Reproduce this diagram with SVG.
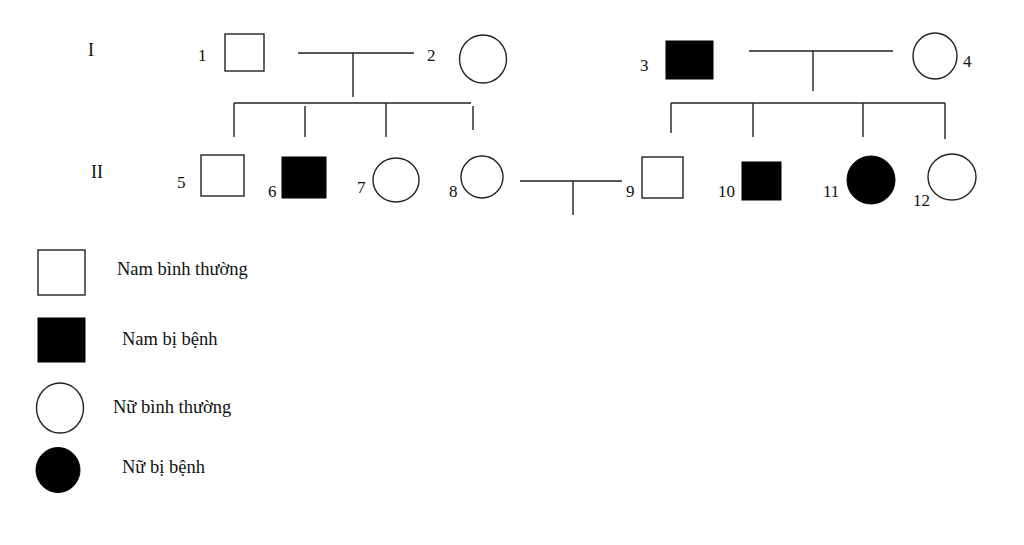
<svg xmlns="http://www.w3.org/2000/svg" width="1024" height="545" viewBox="0 0 1024 545">
<style>
.n{fill:#fff;stroke:#222;stroke-width:1.4}
.a{fill:#000;stroke:#000;stroke-width:1}
.c line{stroke:#222;stroke-width:1.4}
text{font-family:"Liberation Serif","Times New Roman",serif;fill:#111}
.num{font-size:17px}
.gen{font-size:18px}
.leg{font-size:18.5px}
</style>
<rect width="1024" height="545" fill="#fff"/>
<g id="connectors" class="c">
<line x1="298" y1="53" x2="414" y2="53"/>
<line x1="353" y1="53" x2="353" y2="97"/>
<line x1="234" y1="103" x2="471" y2="103"/>
<line x1="234" y1="103" x2="234" y2="137"/>
<line x1="305" y1="106" x2="305" y2="137"/>
<line x1="386" y1="103" x2="386" y2="137"/>
<line x1="473" y1="106" x2="473" y2="130"/>
<line x1="749" y1="51" x2="893" y2="51"/>
<line x1="813" y1="51" x2="813" y2="91"/>
<line x1="671" y1="103" x2="945" y2="103"/>
<line x1="671" y1="103" x2="671" y2="133"/>
<line x1="753" y1="103" x2="753" y2="137"/>
<line x1="863" y1="103" x2="863" y2="137"/>
<line x1="945" y1="103" x2="945" y2="139"/>
<line x1="520" y1="181" x2="622" y2="181"/>
<line x1="573" y1="181" x2="573" y2="215"/>
</g>
<g id="gen-labels">
<text class="gen" x="88" y="56">I</text>
<text class="gen" x="91" y="178">II</text>
</g>
<g id="n1"><rect class="n" x="225" y="34" width="39" height="37"/><text class="num" x="198" y="61">1</text></g>
<g id="n2"><ellipse class="n" cx="483" cy="59" rx="23.5" ry="24"/><text class="num" x="427" y="61">2</text></g>
<g id="n3"><rect class="a" x="666" y="41" width="47" height="38"/><text class="num" x="640" y="71">3</text></g>
<g id="n4"><ellipse class="n" cx="935" cy="56" rx="22" ry="23"/><text class="num" x="963" y="67">4</text></g>
<g id="n5"><rect class="n" x="201" y="155" width="43" height="41"/><text class="num" x="177" y="188">5</text></g>
<g id="n6"><rect class="a" x="282" y="157" width="44" height="41"/><text class="num" x="268" y="197">6</text></g>
<g id="n7"><ellipse class="n" cx="396" cy="180" rx="23" ry="22"/><text class="num" x="357" y="193">7</text></g>
<g id="n8"><ellipse class="n" cx="482" cy="177" rx="21" ry="21"/><text class="num" x="449" y="197">8</text></g>
<g id="n9"><rect class="n" x="642" y="157" width="41" height="41"/><text class="num" x="626" y="197">9</text></g>
<g id="n10"><rect class="a" x="742" y="162" width="39" height="38"/><text class="num" x="718" y="197">10</text></g>
<g id="n11"><ellipse class="a" cx="871" cy="180" rx="24" ry="24"/><text class="num" x="823" y="197">11</text></g>
<g id="n12"><ellipse class="n" cx="952" cy="177" rx="24" ry="23"/><text class="num" x="913" y="206">12</text></g>
<g id="legend-nam-binh-thuong"><rect class="n" x="38" y="250" width="47" height="45"/><text class="leg" x="117" y="275">Nam bình thường</text></g>
<g id="legend-nam-bi-benh"><rect class="a" x="38" y="318" width="47" height="44"/><text class="leg" x="122" y="345">Nam bị bệnh</text></g>
<g id="legend-nu-binh-thuong"><ellipse class="n" cx="60" cy="408" rx="23.5" ry="25"/><text class="leg" x="113" y="413">Nữ bình thường</text></g>
<g id="legend-nu-bi-benh"><ellipse class="a" cx="58" cy="470" rx="22" ry="22.5"/><text class="leg" x="122" y="473">Nữ bị bệnh</text></g>
</svg>
